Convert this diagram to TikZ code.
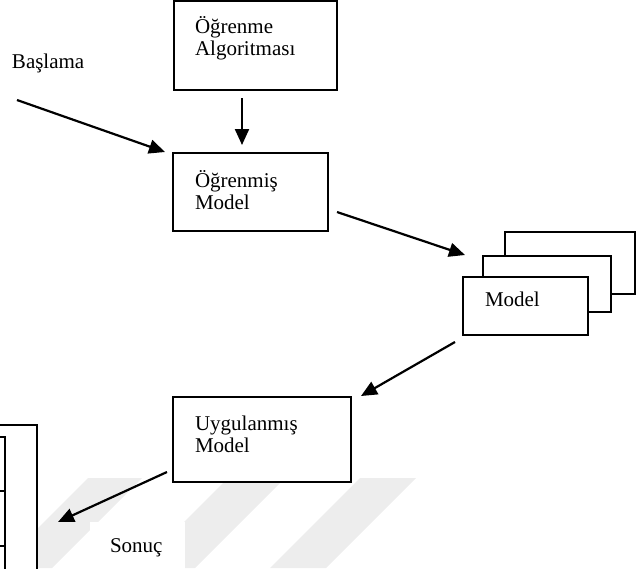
\documentclass[tikz,border=0pt]{standalone}
\usepackage{fontspec}
\setmainfont{Liberation Serif}
\usetikzlibrary{arrows.meta}
\begin{document}
\begin{tikzpicture}[x=1pt,y=-1pt,
  box/.style={draw=black, line width=1.6pt, fill=white, inner sep=0pt, outer sep=0pt, anchor=north west},
  lbl/.style={anchor=base west, inner sep=0pt, outer sep=0pt, font=\fontsize{21}{21.5}\selectfont, align=left},
  flow/.style={line width=2.2pt, -{Triangle[length=16pt,width=14pt]}},
  band/.style={fill=black!7, draw=none},
  thin/.style={line width=1.6pt}
]
\useasboundingbox (0,0) rectangle (643,568);
\clip (0,0) rectangle (643,568);

% faint diagonal bands in the lower part
\fill[band] (88,478) -- (142,478) -- (52,568) -- (-2,568) -- cycle;
\fill[band] (228,478) -- (285,478) -- (195,568) -- (138,568) -- cycle;
\fill[band] (360,478) -- (416,478) -- (326,568) -- (270,568) -- cycle;

% boxes
\node[box, minimum width=163pt, minimum height=89pt] (alg) at (174,1) {};
\node[box, minimum width=155pt, minimum height=78pt] (learned) at (173,153) {};
\node[box, minimum width=130pt, minimum height=62pt] (mback) at (505,232) {};
\node[box, minimum width=128pt, minimum height=56pt] (mmid) at (483,256) {};
\node[box, minimum width=125pt, minimum height=58pt] (mfront) at (463,277) {};
\node[box, minimum width=178pt, minimum height=85pt] (applied) at (173,397) {};

% result table at the left edge
\node[box, minimum width=45pt, minimum height=160pt] (result) at (-8,425) {};
\coordinate (rt) at (5,437);
\draw[thin] (-5,437) -- (rt) -- (5,580);
\draw[thin] (-5,491) -- (5,491);
\draw[thin] (-5,546) -- (5,546);

% white patch behind the result label
\node[fill=white, draw=none, inner sep=0pt, minimum width=95pt, minimum height=50pt, anchor=north west] (respatch) at (90,522) {};

% labels (base anchor sits on the last line)
\node[lbl] (talg) at (195,55) {Öğrenme\\Algoritması};
\node[lbl] (tlearned) at (195,209) {Öğrenmiş\\Model};
\node[lbl] (tmodel) at (485,306) {Model};
\node[lbl] (tapplied) at (195,452) {Uygulanmış\\Model};
\node[lbl] (tstart) at (12,68) {Başlama};
\node[lbl] (tres) at (110,552) {Sonuç};

% connectors
\coordinate (a1s) at (17,100);  \coordinate (a1e) at (165,152);
\coordinate (a2s) at (242,98);  \coordinate (a2e) at (242,145);
\coordinate (a3s) at (337,212); \coordinate (a3e) at (465,255);
\coordinate (a4s) at (455,342); \coordinate (a4e) at (361,396);
\coordinate (a5s) at (167,472); \coordinate (a5e) at (58,522);
\draw[flow] (a1s) -- (a1e);
\draw[flow] (a2s) -- (a2e);
\draw[flow] (a3s) -- (a3e);
\draw[flow] (a4s) -- (a4e);
\draw[flow] (a5s) -- (a5e);
\end{tikzpicture}
\end{document}
